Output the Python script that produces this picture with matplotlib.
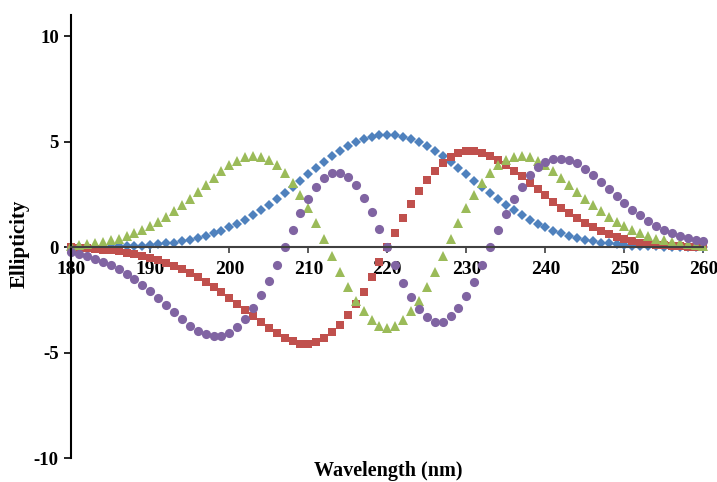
import matplotlib
matplotlib.use("Agg")
import matplotlib.pyplot as plt

wavelength = list(range(180, 261))

series_blue = [
    0.01, 0.01, 0.01, 0.01, 0.02, 0.03, 0.04, 0.05, 0.06, 0.08,
    0.11, 0.14, 0.18, 0.22, 0.28, 0.35, 0.44, 0.53, 0.65, 0.78,
    0.94, 1.11, 1.30, 1.52, 1.75, 2.00, 2.27, 2.56, 2.85, 3.15,
    3.45, 3.75, 4.04, 4.31, 4.56, 4.78, 4.97, 5.13, 5.24, 5.31,
    5.33,
    5.31, 5.24, 5.13, 4.97, 4.78, 4.56, 4.31, 4.04, 3.75, 3.45,
    3.15, 2.85, 2.56, 2.27, 2.00, 1.75, 1.52, 1.30, 1.11, 0.94,
    0.78, 0.65, 0.53, 0.44, 0.35, 0.28, 0.22, 0.18, 0.14, 0.11,
    0.08, 0.06, 0.05, 0.035, 0.026, 0.019, 0.014, 0.01, 0.007, 0.005,
]

series_red = [
    -0.01, -0.03, -0.05, -0.08, -0.11, -0.15, -0.20, -0.26, -0.33, -0.41,
    -0.50, -0.61, -0.74, -0.88, -1.04, -1.22, -1.42, -1.64, -1.88, -2.13,
    -2.40, -2.68, -2.97, -3.26, -3.55, -3.83, -4.07, -4.28, -4.46, -4.57,
    -4.58, -4.50, -4.32, -4.04, -3.67, -3.22, -2.68, -2.10, -1.41, -0.69,
    0.00,
    0.69, 1.39, 2.05, 2.64, 3.17, 3.63, 4.01, 4.29, 4.48, 4.57,
    4.57, 4.48, 4.34, 4.14, 3.90, 3.63, 3.35, 3.05, 2.75, 2.45,
    2.16, 1.88, 1.62, 1.38, 1.15, 0.95, 0.78, 0.62, 0.48, 0.37,
    0.28, 0.21, 0.16, 0.12, 0.09, 0.06, 0.04, 0.03, 0.02, 0.01,
]

series_green = [
    0.07, 0.10, 0.14, 0.19, 0.25, 0.32, 0.41, 0.52, 0.65, 0.81,
    1.00, 1.21, 1.45, 1.71, 2.00, 2.30, 2.62, 2.95, 3.28, 3.60,
    3.88, 4.10, 4.25, 4.31, 4.28, 4.13, 3.88, 3.50, 3.03, 2.48,
    1.84, 1.13, 0.38, -0.40, -1.18, -1.90, -2.53, -3.04, -3.45, -3.72,
    -3.82,
    -3.72, -3.45, -3.04, -2.53, -1.90, -1.18, -0.40, 0.38, 1.13, 1.84,
    2.48, 3.03, 3.50, 3.88, 4.13, 4.28, 4.31, 4.25, 4.10, 3.88,
    3.60, 3.28, 2.95, 2.62, 2.30, 2.00, 1.71, 1.45, 1.21, 1.00,
    0.81, 0.65, 0.52, 0.41, 0.32, 0.25, 0.19, 0.14, 0.10, 0.07,
]

series_purple = [
    -0.24, -0.32, -0.42, -0.54, -0.68, -0.85, -1.04, -1.26, -1.51, -1.79,
    -2.09, -2.41, -2.75, -3.09, -3.42, -3.71, -3.95, -4.12, -4.21, -4.20,
    -4.07, -3.80, -3.40, -2.88, -2.28, -1.60, -0.82, 0.00, 0.83, 1.60,
    2.27, 2.85, 3.27, 3.50, 3.50, 3.31, 2.93, 2.35, 1.67, 0.87,
    0.00,
    -0.84, -1.70, -2.38, -2.94, -3.33, -3.53, -3.53, -3.28, -2.87, -2.29,
    -1.63, -0.84, 0.00, 0.83, 1.59, 2.28, 2.87, 3.40, 3.80, 4.05,
    4.18, 4.19, 4.14, 3.97, 3.71, 3.44, 3.09, 2.76, 2.41, 2.09,
    1.78, 1.51, 1.26, 1.02, 0.82, 0.67, 0.54, 0.43, 0.35, 0.27,
]

x_ticks = [180, 190, 200, 210, 220, 230, 240, 250, 260]
y_ticks = [-10, -5, 0, 5, 10]

plt.rcParams['font.family'] = ['Liberation Serif', 'DejaVu Serif']

fig = plt.figure(figsize=(7.17, 4.82), dpi=100)
ax = fig.add_axes([0.0994, 0.0492, 0.8817, 0.9197])

styles = [
    (series_blue, '#4F81BD', 'D', 5.2),
    (series_red, '#C0504D', 's', 6.2),
    (series_green, '#9BBB59', '^', 7.0),
    (series_purple, '#8064A2', 'o', 6.6),
]
for vals, col, mk, ms in styles:
    ax.plot(wavelength, vals, linestyle='none', marker=mk, markersize=ms,
            color=col, markeredgewidth=0, clip_on=False)

ax.set_xlim(180, 260)
ax.set_ylim(-10, 11)
ax.set_xticks(x_ticks)
ax.set_yticks(y_ticks)
ax.set_xticklabels([str(t) for t in x_ticks])
ax.set_yticklabels([str(t) for t in y_ticks])

for s in ['top', 'right']:
    ax.spines[s].set_visible(False)
ax.spines['left'].set_linewidth(1.5)
ax.spines['left'].set_color('black')
ax.spines['bottom'].set_position(('data', 0))
ax.spines['bottom'].set_linewidth(1.5)
ax.spines['bottom'].set_color('#404040')
ax.spines['left'].set_bounds(-10, 11)

ax.tick_params(axis='x', direction='out', length=4, width=1.2, pad=6,
               color='#404040', labelsize=14)
ax.tick_params(axis='y', direction='out', length=5, width=1.2, pad=4,
               labelsize=13.5)
for lab in ax.get_xticklabels() + ax.get_yticklabels():
    lab.set_fontweight('bold')

fig.text(0.541, 0.013, 'Wavelength (nm)', ha='center', va='baseline',
         fontsize=14.5, fontweight='bold')
fig.text(0.028, 0.495, 'Ellipticity', ha='center', va='center',
         rotation=90, fontsize=15, fontweight='bold')

fig.savefig('out.png', dpi=100)
